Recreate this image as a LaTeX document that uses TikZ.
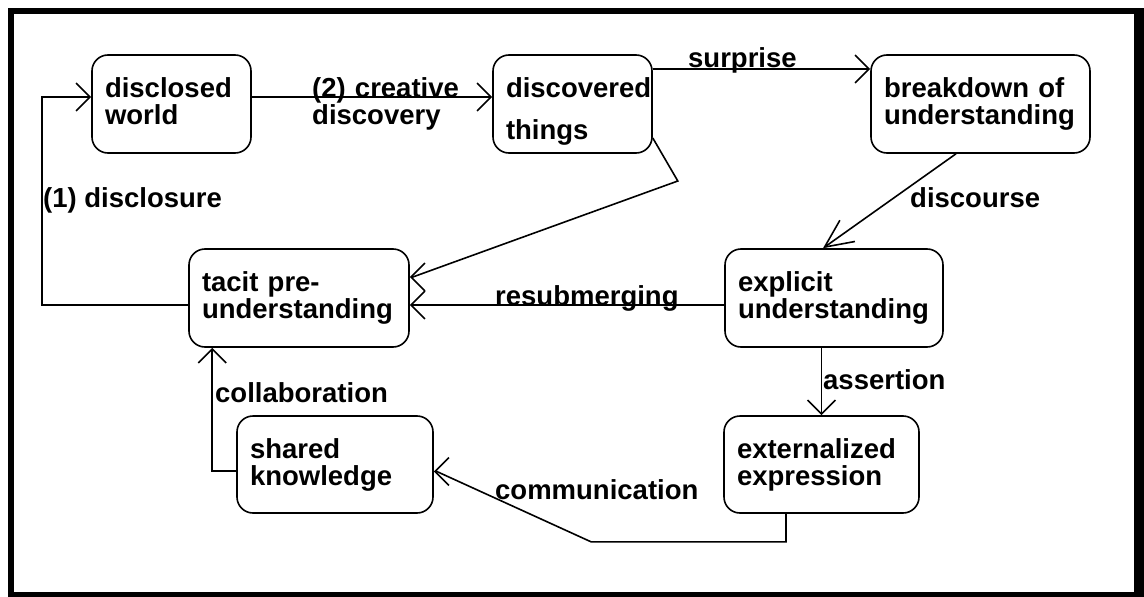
\documentclass[tikz,border=0pt]{standalone}
\usepackage{fontspec}
\setmainfont{Liberation Sans}
\usetikzlibrary{arrows.meta,calc}

\begin{document}
\begin{tikzpicture}[x=1pt,y=-1pt,
  every node/.style={font=\fontsize{27.5}{27}\bfseries\selectfont},
  stage/.style={draw,line width=1.6pt,rounded corners=16pt,minimum height=98pt,inner xsep=13pt,inner ysep=0pt,align=left},
  lbl/.style={inner sep=0pt,anchor=base west},
  flow/.style={line width=1.6pt,-{Straight Barb[length=14pt,width=28pt]}}]
\useasboundingbox (0,0) rectangle (1144,597);
\fill (8,8) rectangle (1144,597);
\fill[white] (14,14) rectangle (1134,592);

\node[stage,text width=133pt] (dw) at (171.5,104) {disclosed\\world\rule[-6pt]{0pt}{0pt}};
\node[stage,text width=133pt,font=\fontsize{27.5}{42}\bfseries\selectfont] (dt) at (572.5,104) {\rule{0pt}{34pt}discovered\\things};
\node[stage,text width=193pt] (bu) at (980.5,104) {breakdown of\\understanding};
\node[stage,text width=194pt] (tp) at (299,298) {tacit pre-\\understanding};
\node[stage,text width=192pt] (eu) at (834,298) {explicit\\understanding};
\node[stage,text width=169pt,minimum height=97pt] (ee) at (821.5,464.5) {externalized\\expression};
\node[stage,text width=170pt,minimum height=97pt] (sk) at (335,464.5) {shared\\knowledge};

\draw[flow] ($(tp.west)+(0,7)$) -- ++(-146,0) |- ($(dw.west)+(0,-7)$);
\draw[flow] ($(dw.east)+(0,-7)$) -- ($(dt.west)+(0,-7)$);
\draw[flow] ($(dt.east)+(0,-35)$) -- ($(bu.west)+(0,-35)$);
\draw[flow] ($(dt.east)+(0,34)$) -- ++(25,43) -- ($(tp.east)+(3,-21)$) -- ($(tp.east)+(0,-21)$);
\draw[flow] ($(eu.west)+(0,7)$) -- ($(tp.east)+(0,7)$);
\draw[flow,-{Straight Barb[length=28pt,width=26pt]}] ($(bu.south)+(-24.5,0)$) -- ($(eu.north)+(-11,0)$);
\draw[flow] (ee.north |- eu.south) -- (ee.north);
\draw[flow] ($(ee.south)+(-35.5,0)$) -- ++(0,28) -- ++(-195,0) -- ($(sk.east)+(3,7)$) -- ($(sk.east)+(0,7)$);
\draw[flow] ($(sk.west)+(0,6.5)$) -| ($(tp.south west)+(24,0)$);

\node[lbl] (ldisc) at (43,207) {(1) disclosure};
\node[lbl,text width=160pt,align=left] (lcrea) at (312,97) {(2) creative\\discovery};
\node[lbl] (lsurp) at (688,67) {surprise};
\node[lbl] (ldisr) at (910,207) {discourse};
\node[lbl] (lresu) at (495,305) {resubmerging};
\node[lbl] (lasse) at (823,389) {assertion};
\node[lbl] (lcoll) at (215,402) {collaboration};
\node[lbl] (lcomm) at (495,499) {communication};
\end{tikzpicture}
\end{document}
